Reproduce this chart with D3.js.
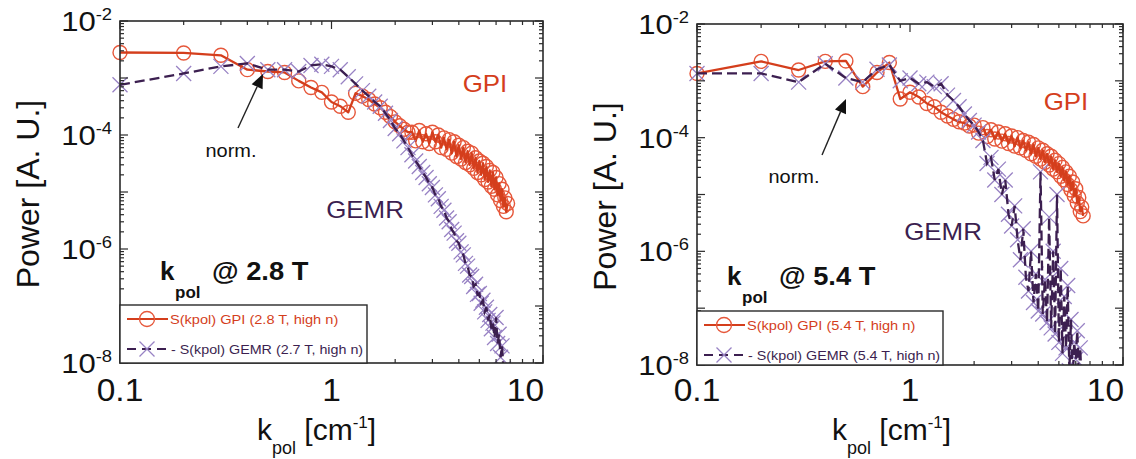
<!DOCTYPE html>
<html><head><meta charset="utf-8">
<script src="https://cdn.jsdelivr.net/npm/d3@7"></script>
<style>
body{margin:0;background:#fff;}
svg{display:block;font-family:"Liberation Sans",Arial,Helvetica,sans-serif;}
</style></head><body>
<svg id="chart" width="1136" height="459"></svg>
<script>
// Poloidal wavenumber grid (cm^-1)
const kValues = [0.1,0.2,0.3,0.4,0.5,0.6,0.7,0.8,0.9,1.0,
  1.1,1.2,1.3,1.4,1.5,1.6,1.7,1.8,1.9,2.0,
  2.1,2.2,2.3,2.4,2.5,2.6,2.7,2.8,2.9,3.0,
  3.1,3.2,3.3,3.4,3.5,3.6,3.7,3.8,3.9,4.0,
  4.1,4.2,4.3,4.4,4.5,4.6,4.7,4.8,4.9,5.0,
  5.1,5.2,5.3,5.4,5.5,5.6,5.7,5.8,5.9,6.0,
  6.1,6.2,6.3,6.4,6.5,6.6,6.7,6.8];

// S(kpol) spectra at 2.8 T (GPI) and 2.7 T (GEMR)
const gpi28 = [2.8e-3,2.75e-3,2.5e-3,1.4e-3,1.3e-3,1.25e-3,8.9e-4,6.8e-4,5.6e-4,3.8e-4,
  3.2e-4,2.5e-4,5.4e-4,4.8e-4,4.2e-4,3.5e-4,3.0e-4,2.5e-4,2.1e-4,1.7e-4,
  1.45e-4,1.26e-4,1.12e-4,1.12e-4,7.9e-5,1.2e-4,7.6e-5,1.05e-4,7.1e-5,1.12e-4,
  7.6e-5,1.0e-4,6.0e-5,8.9e-5,5.6e-5,8.3e-5,4.8e-5,7.6e-5,4.2e-5,6.6e-5,
  3.8e-5,6.0e-5,3.3e-5,5.2e-5,3.0e-5,4.8e-5,2.6e-5,4.0e-5,2.2e-5,3.5e-5,
  2.0e-5,3.2e-5,1.66e-5,2.8e-5,1.5e-5,2.4e-5,1.26e-5,2.2e-5,1.12e-5,1.8e-5,
  8.9e-6,1.4e-5,7.1e-6,1.12e-5,5.6e-6,7.9e-6,4.5e-6,6.3e-6];
const gemr27 = [7.6e-4,1.2e-3,1.6e-3,1.8e-3,1.4e-3,1.4e-3,1.3e-3,1.66e-3,1.74e-3,1.6e-3,
  1.4e-3,1.05e-3,7.9e-4,6.0e-4,4.8e-4,3.8e-4,3.2e-4,2.4e-4,1.8e-4,1.3e-4,
  1.05e-4,7.9e-5,6.0e-5,4.5e-5,3.5e-5,2.8e-5,2.2e-5,1.8e-5,1.4e-5,1.2e-5,
  8.9e-6,7.6e-6,5.6e-6,4.8e-6,3.5e-6,3.0e-6,2.2e-6,1.9e-6,1.4e-6,1.26e-6,
  8.9e-7,7.9e-7,5.6e-7,5.0e-7,3.5e-7,3.3e-7,2.2e-7,2.4e-7,1.6e-7,1.66e-7,
  1.12e-7,1.26e-7,7.9e-8,9.5e-8,5.6e-8,7.1e-8,4.0e-8,5.0e-8,2.8e-8,6.3e-8,
  2.2e-8,3.2e-8,1.26e-8,2.0e-8,7.9e-9];

// S(kpol) spectra at 5.4 T
const gpi54 = [1.35e-3,2.2e-3,1.55e-3,2.2e-3,2.24e-3,7.9e-4,1.4e-3,2.1e-3,4.8e-4,6.3e-4,
  5.2e-4,4.0e-4,3.5e-4,2.8e-4,2.4e-4,2.1e-4,1.9e-4,1.8e-4,1.6e-4,1.66e-4,
  1.2e-4,1.5e-4,1.05e-4,1.38e-4,9.5e-5,1.26e-4,8.7e-5,1.17e-4,7.9e-5,1.07e-4,
  7.1e-5,1.0e-4,6.6e-5,8.9e-5,6.0e-5,8.3e-5,5.2e-5,7.6e-5,4.7e-5,6.6e-5,
  4.2e-5,6.0e-5,3.7e-5,5.2e-5,3.3e-5,4.7e-5,2.8e-5,4.0e-5,2.5e-5,3.5e-5,
  2.1e-5,3.0e-5,1.8e-5,2.5e-5,1.5e-5,2.1e-5,1.2e-5,1.66e-5,9.5e-6,1.26e-5,
  7.1e-6,8.9e-6,5.0e-6,6.0e-6,4.2e-6];
const gemr54 = [1.35e-3,1.35e-3,9.5e-4,2.0e-3,1.12e-3,9.5e-4,1.6e-3,1.9e-3,1.0e-3,1.12e-3,
  8.9e-4,9.5e-4,7.9e-4,8.9e-4,5.6e-4,4.5e-4,3.5e-4,2.6e-4,2.0e-4,1.66e-4,
  1.26e-4,8.9e-5,3.5e-5,4.5e-5,1.8e-5,2.8e-5,1.0e-5,1.8e-5,4.5e-6,2.8e-6,
  6.3e-6,1.6e-6,7.1e-7,2.5e-6,3.5e-7,2.0e-7,1.0e-6,1.26e-7,4.0e-7,8.9e-8,
  2.5e-5,7.9e-8,3.2e-7,5.6e-8,4.0e-6,4.5e-8,1.0e-6,3.5e-8,1.0e-5,2.5e-8,
  5.0e-7,1.6e-8,1.6e-7,2.0e-8,2.5e-7,7.9e-9,6.3e-8,5.0e-9,2.5e-8,1.26e-8,
  4.0e-8,6.3e-9,2.0e-8,4.0e-9];

// Axis tick labels
const xTickLabels = ["0.1", "1", "10"];
const xTickValues = [0.1, 1, 10];
const yTickExponents = ["-2", "-4", "-6", "-8"];
const yTickValues = [1e-2, 1e-4, 1e-6, 1e-8];

const panels = [
  { id: "p28", x0: 120, x1: 543, y0: 21, y1: 363,
    gpi: gpi28, gemr: gemr27, field: "2.8 T",
    legendGpi: "S(kpol) GPI (2.8 T, high n)",
    legendGemr: "- S(kpol) GEMR (2.7 T, high n)",
    legendRight: 367, legendTop: 305,
    ylabelX: 27, xlabelX: 257,
    gpiLabel: [485, 92], gemrLabel: [365, 218],
    norm: [231, 157], arrow: [[238, 128], [263, 74]],
    title: [160, 280] },
  { id: "p54", x0: 697, x1: 1123, y0: 24, y1: 365,
    gpi: gpi54, gemr: gemr54, field: "5.4 T",
    legendGpi: "S(kpol) GPI (5.4 T, high n)",
    legendGemr: "- S(kpol) GEMR (5.4 T, high n)",
    legendRight: 943, legendTop: 311,
    ylabelX: 604, xlabelX: 832,
    gpiLabel: [1066, 110], gemrLabel: [943, 240],
    norm: [794, 183], arrow: [[822, 155], [846, 99]],
    title: [727, 285] }
];

const GPI_LINE = "#d43e1c", GPI_MARK = "#e6573a";
const GEMR_LINE = "#3c1f50", GEMR_MARK = "#9882c4";
const FRAME = "#2a2a2a";

const svg = d3.select("#chart");
const defs = svg.append("defs");

function stretchedText(g, x, y, str, size, opts = {}) {
  return g.append("text")
    .attr("transform", `translate(${x},${y}) scale(${opts.sx || 1},1)`)
    .attr("font-size", size)
    .attr("fill", opts.fill || "#111")
    .attr("text-anchor", opts.anchor || "start")
    .attr("font-weight", opts.weight || "normal")
    .text(str);
}

function xMarker(g, cx, cy, s, color, w) {
  g.append("path")
    .attr("d", `M${cx - s},${cy - s}L${cx + s},${cy + s}M${cx - s},${cy + s}L${cx + s},${cy - s}`)
    .attr("stroke", color).attr("stroke-width", w).attr("fill", "none");
}

panels.forEach(p => {
  const x = d3.scaleLog().domain([0.1, 10]).range([p.x0, p.x1]);
  const y = d3.scaleLog().domain([1e-8, 1e-2]).range([p.y1, p.y0]);
  const g = svg.append("g");

  // lines stay inside the frame; markers may overhang the left/top/right edges
  defs.append("clipPath").attr("id", "clip-" + p.id)
    .append("rect").attr("x", p.x0).attr("y", p.y0)
    .attr("width", p.x1 - p.x0).attr("height", p.y1 - p.y0);
  defs.append("clipPath").attr("id", "mclip-" + p.id)
    .append("rect").attr("x", p.x0 - 12).attr("y", p.y0 - 12)
    .attr("width", p.x1 - p.x0 + 24).attr("height", p.y1 - p.y0 + 12);

  const gpiData = p.gpi.map((v, i) => [kValues[i], v]);
  const gemrData = p.gemr.map((v, i) => [kValues[i], v]);
  const line = d3.line().x(d => x(d[0])).y(d => y(d[1]));

  // GPI: open circles joined by a solid line
  g.append("g").attr("clip-path", `url(#mclip-${p.id})`)
    .selectAll("circle").data(gpiData).join("circle")
    .attr("cx", d => x(d[0])).attr("cy", d => y(d[1])).attr("r", 7)
    .attr("fill", "none").attr("stroke", GPI_MARK).attr("stroke-width", 1.4);
  g.append("path").datum(gpiData).attr("d", line)
    .attr("clip-path", `url(#clip-${p.id})`)
    .attr("fill", "none").attr("stroke", GPI_LINE).attr("stroke-width", 2.3)
    .attr("stroke-linejoin", "round");

  // GEMR: crosses joined by a dashed line
  const gm = g.append("g").attr("clip-path", `url(#mclip-${p.id})`);
  gemrData.forEach(d => xMarker(gm, x(d[0]), y(d[1]), 7.5, GEMR_MARK, 1.3));
  g.append("path").datum(gemrData).attr("d", line)
    .attr("clip-path", `url(#clip-${p.id})`)
    .attr("fill", "none").attr("stroke", GEMR_LINE).attr("stroke-width", 2.3)
    .attr("stroke-dasharray", "10,5");

  // Frame and inward ticks on all four sides
  g.append("rect").attr("x", p.x0).attr("y", p.y0)
    .attr("width", p.x1 - p.x0).attr("height", p.y1 - p.y0)
    .attr("fill", "none").attr("stroke", FRAME).attr("stroke-width", 1.6);

  const ticks = g.append("g").attr("stroke", FRAME).attr("stroke-width", 1.2);
  const isDecade = t => Math.abs(Math.log10(t) - Math.round(Math.log10(t))) < 1e-6;
  x.ticks().forEach(t => {
    const len = isDecade(t) ? 8 : 4, px = x(t);
    ticks.append("line").attr("x1", px).attr("x2", px).attr("y1", p.y1).attr("y2", p.y1 - len);
    ticks.append("line").attr("x1", px).attr("x2", px).attr("y1", p.y0).attr("y2", p.y0 + len);
  });
  y.ticks().forEach(t => {
    const len = isDecade(t) ? 8 : 4, py = y(t);
    ticks.append("line").attr("x1", p.x0).attr("x2", p.x0 + len).attr("y1", py).attr("y2", py);
    ticks.append("line").attr("x1", p.x1).attr("x2", p.x1 - len).attr("y1", py).attr("y2", py);
  });

  // Tick labels
  xTickValues.forEach((v, i) => {
    const last = i === xTickValues.length - 1;
    stretchedText(g, last ? x(v) + 1 : x(v), 401, xTickLabels[i], 31,
      { anchor: last ? "end" : "middle", sx: 1.08 });
  });
  yTickValues.forEach((v, i) => {
    const t = g.append("text")
      .attr("transform", `translate(${p.x0 - 8},${y(v) + 10}) scale(1.15,1)`)
      .attr("text-anchor", "end").attr("fill", "#111");
    t.append("tspan").attr("font-size", 27).text("10");
    t.append("tspan").attr("font-size", 16).attr("dy", -11).text(yTickExponents[i]);
  });

  // Axis titles
  g.append("text")
    .attr("transform", `translate(${p.ylabelX + 12},${(p.y0 + p.y1) / 2 + 2}) rotate(-90)`)
    .attr("text-anchor", "middle").attr("font-size", 32).attr("fill", "#111")
    .text("Power [A. U.]");
  const xl = g.append("text").attr("x", p.xlabelX).attr("y", 440).attr("fill", "#111");
  xl.append("tspan").attr("font-size", 30).text("k");
  xl.append("tspan").attr("font-size", 18).attr("dy", 14).text("pol");
  xl.append("tspan").attr("font-size", 30).attr("dy", -14).text(" [cm");
  xl.append("tspan").attr("font-size", 17).attr("dy", -12).text("-1");
  xl.append("tspan").attr("font-size", 30).attr("dy", 12).text("]");

  // Series names
  stretchedText(g, p.gpiLabel[0], p.gpiLabel[1], "GPI", 24, { anchor: "middle", fill: GPI_LINE, sx: 1.08 });
  stretchedText(g, p.gemrLabel[0], p.gemrLabel[1], "GEMR", 24, { anchor: "middle", fill: GEMR_LINE, sx: 1.08 });

  // Normalisation point annotation
  stretchedText(g, p.norm[0], p.norm[1], "norm.", 19, { anchor: "middle", sx: 1.05 });
  const [a0, a1] = p.arrow;
  const ang = Math.atan2(a1[1] - a0[1], a1[0] - a0[0]);
  const hl = 14, hw = 6;
  const bx = a1[0] - hl * Math.cos(ang), by = a1[1] - hl * Math.sin(ang);
  g.append("line").attr("x1", a0[0]).attr("y1", a0[1]).attr("x2", bx).attr("y2", by)
    .attr("stroke", "#222").attr("stroke-width", 1.4);
  g.append("path")
    .attr("d", `M${a1[0]},${a1[1]}L${bx + hw * Math.sin(ang)},${by - hw * Math.cos(ang)}L${bx - hw * Math.sin(ang)},${by + hw * Math.cos(ang)}Z`)
    .attr("fill", "#111");

  // Panel title
  stretchedText(g, p.title[0], p.title[1], "k", 26, { weight: "bold" });
  stretchedText(g, p.title[0] + 15, p.title[1] + 18, "pol", 17, { weight: "bold" });
  stretchedText(g, p.title[0] + 52, p.title[1], "@ " + p.field, 26, { weight: "bold", sx: 1.05 });

  // Legend
  const lg = g.append("g");
  lg.append("rect").attr("x", p.x0).attr("y", p.legendTop)
    .attr("width", p.legendRight - p.x0).attr("height", p.y1 - p.legendTop)
    .attr("fill", "#fff").attr("stroke", FRAME).attr("stroke-width", 1.4);
  const r1 = p.legendTop + 14, r2 = p.legendTop + 44;
  lg.append("line").attr("x1", p.x0 + 7).attr("x2", p.x0 + 48).attr("y1", r1).attr("y2", r1)
    .attr("stroke", GPI_LINE).attr("stroke-width", 2);
  lg.append("circle").attr("cx", p.x0 + 27).attr("cy", r1).attr("r", 7.5)
    .attr("fill", "none").attr("stroke", GPI_MARK).attr("stroke-width", 1.3);
  stretchedText(lg, p.x0 + 50, r1 + 5, p.legendGpi, 13.5, { fill: GPI_LINE, sx: 1.08 });
  lg.append("line").attr("x1", p.x0 + 7).attr("x2", p.x0 + 48).attr("y1", r2).attr("y2", r2)
    .attr("stroke", GEMR_LINE).attr("stroke-width", 2).attr("stroke-dasharray", "9,6");
  xMarker(lg, p.x0 + 27, r2, 7.5, GEMR_MARK, 1.3);
  stretchedText(lg, p.x0 + 51, r2 + 5, p.legendGemr, 13.5, { fill: GEMR_LINE, sx: 1.06 });
});
</script>
</body></html>
